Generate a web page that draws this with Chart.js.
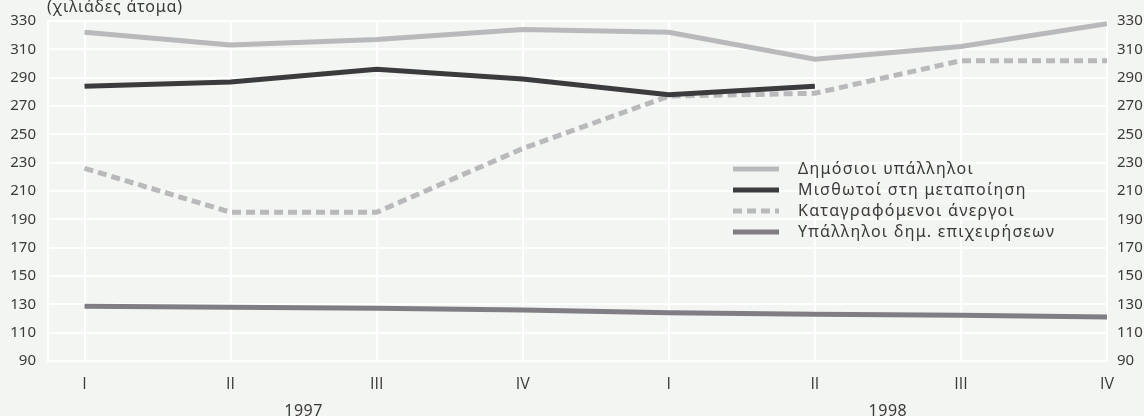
<!DOCTYPE html>
<html>
<head>
<meta charset="utf-8">
<script src="https://cdn.jsdelivr.net/npm/chart.js@4"></script>
<style>
  html, body { margin: 0; padding: 0; background: #f3f5f2; }
  #wrap { width: 1144px; height: 416px; }
</style>
</head>
<body>
<div id="wrap"><canvas id="chart" width="1144" height="416"></canvas></div>
<script>
// quarters 1997-1998
const quarters = ['I', 'II', 'III', 'IV', 'I', 'II', 'III', 'IV'];
const years = ['1997', '1998'];
const yTicks = [90, 110, 130, 150, 170, 190, 210, 230, 250, 270, 290, 310, 330];

const seriesNames = [
  'Δημόσιοι υπάλληλοι',
  'Μισθωτοί στη μεταποίηση',
  'Καταγραφόμενοι άνεργοι',
  'Υπάλληλοι δημ. επιχειρήσεων'
];
const publicServants = [322, 313, 317, 324, 322, 303, 312, 328];
const manufacturing = [284, 287, 296, 289, 278, 284];
const unemployed = [226, 195, 195, 240, 277, 279, 302, 302];
const publicCompanies = [128.6, 128, 127.3, 126, 124, 123, 122.3, 121];

const colors = ['#b9b9bb', '#3b3b3d', '#b9b9bb', '#807e84'];
const dashes = [[], [], [9, 5], []];

const FONT = "'Noto Sans', sans-serif";
const TEXT = '#3a3a3a';

const toPoints = arr => arr.map((v, i) => ({ x: i, y: v }));

const extras = {
  id: 'extras',
  afterDraw(chart) {
    const { ctx, scales } = chart;
    ctx.save();
    ctx.font = '16px ' + FONT;
    ctx.fillStyle = TEXT;
    ctx.letterSpacing = '0.8px';
    // unit title
    ctx.textAlign = 'left';
    ctx.textBaseline = 'alphabetic';
    ctx.fillText('(χιλιάδες άτομα)', 47, 12);
    // year labels
    ctx.textBaseline = 'middle';
    ctx.letterSpacing = '0.5px';
    ctx.textAlign = 'center';
    ctx.fillText(years[0], scales.x.getPixelForValue(1.5), 411);
    ctx.fillText(years[1], scales.x.getPixelForValue(5.5), 411);
    // legend
    ctx.letterSpacing = '1.3px';
    const lx = 733, tx = 798;
    seriesNames.forEach((name, i) => {
      const y = 169 + i * 21;
      ctx.beginPath();
      ctx.strokeStyle = colors[i];
      ctx.lineWidth = 5;
      ctx.setLineDash(dashes[i]);
      ctx.moveTo(lx, y);
      ctx.lineTo(lx + 46, y);
      ctx.stroke();
      ctx.setLineDash([]);
      ctx.textAlign = 'left';
      ctx.fillStyle = TEXT;
      ctx.fillText(name, tx, y);
    });
    ctx.restore();
  }
};

const bg = {
  id: 'bg',
  beforeDraw(chart) {
    const ctx = chart.ctx;
    ctx.save();
    ctx.fillStyle = '#f3f5f2';
    ctx.fillRect(0, 0, chart.width, chart.height);
    ctx.restore();
  }
};

const yTickOpts = {
  color: TEXT,
  font: { family: FONT, size: 15 },
  callback: v => v
};

new Chart(document.getElementById('chart'), {
  type: 'line',
  data: {
    datasets: [
      { label: seriesNames[0], data: toPoints(publicServants), borderColor: colors[0], borderWidth: 5, borderDash: dashes[0] },
      { label: seriesNames[1], data: toPoints(manufacturing), borderColor: colors[1], borderWidth: 5, borderDash: dashes[1] },
      { label: seriesNames[2], data: toPoints(unemployed), borderColor: colors[2], borderWidth: 5, borderDash: dashes[2] },
      { label: seriesNames[3], data: toPoints(publicCompanies), borderColor: colors[3], borderWidth: 5, borderDash: dashes[3] }
    ]
  },
  options: {
    responsive: false,
    animation: false,
    elements: { point: { radius: 0 }, line: { tension: 0, borderCapStyle: 'butt' } },
    layout: { padding: { top: 19, left: 0, right: 0, bottom: 0 } },
    plugins: { legend: { display: false }, tooltip: { enabled: false } },
    scales: {
      x: {
        type: 'linear',
        min: -0.25,
        max: 7,
        afterBuildTicks: s => { s.ticks = quarters.map((q, i) => ({ value: i })); },
        afterFit: s => { s.height = 55; },
        grid: { color: '#ffffff', lineWidth: 2, drawTicks: false },
        border: { display: true, color: '#ffffff', width: 2 },
        ticks: {
          color: TEXT,
          font: { family: "'Open Sans', sans-serif", size: 16 },
          padding: 14,
          maxRotation: 0,
          autoSkip: false,
          callback: v => quarters[v]
        }
      },
      y: {
        position: 'left',
        min: 90,
        max: 330,
        afterBuildTicks: s => { s.ticks = yTicks.map(v => ({ value: v })); },
        afterFit: s => { s.width = 48; },
        grid: { color: '#ffffff', lineWidth: 2, drawTicks: false },
        border: { display: true, color: '#ffffff', width: 2 },
        ticks: Object.assign({ padding: 12 }, yTickOpts)
      },
      y2: {
        position: 'right',
        min: 90,
        max: 330,
        afterBuildTicks: s => { s.ticks = yTicks.map(v => ({ value: v })); },
        afterFit: s => { s.width = 37; },
        grid: { display: false, drawTicks: false },
        border: { display: true, color: '#ffffff', width: 2 },
        ticks: Object.assign({ padding: 10 }, yTickOpts)
      }
    }
  },
  plugins: [bg, extras]
});
</script>
</body>
</html>
